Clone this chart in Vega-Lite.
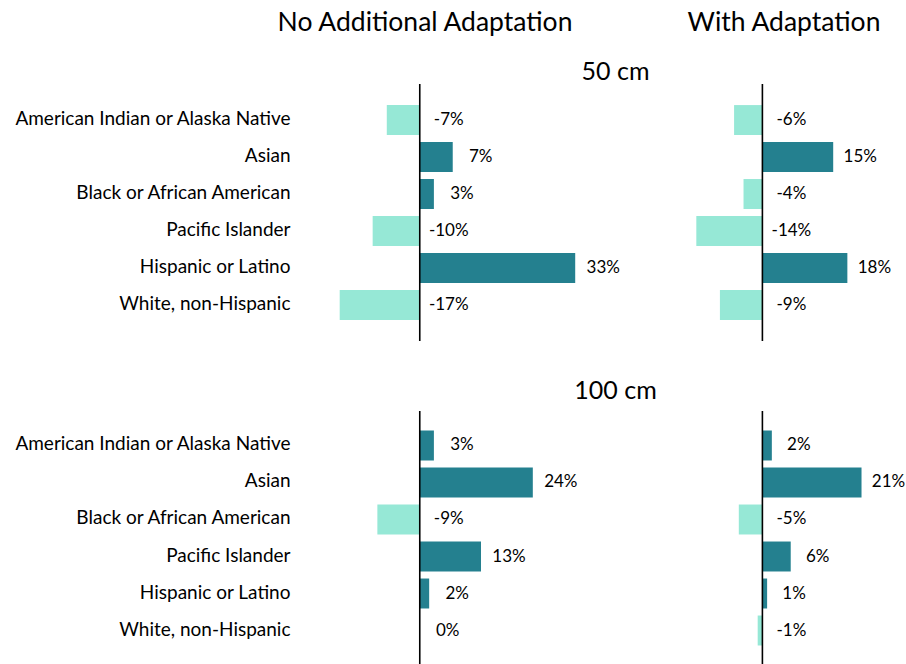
{
  "$schema": "https://vega.github.io/schema/vega-lite/v6.json",
  "padding": {"left": 12, "top": 9, "right": 0, "bottom": 0},
  "config": {
    "view": {"stroke": null},
    "font": "Lato",
    "locale": {"number": {"decimal": ".", "thousands": ",", "grouping": [3], "currency": ["$", ""], "minus": "-"}}
  },
  "datasets": {
    "d50no": [
      {"group": "American Indian or Alaska Native", "value": -0.07},
      {"group": "Asian", "value": 0.07},
      {"group": "Black or African American", "value": 0.03},
      {"group": "Pacific Islander", "value": -0.10},
      {"group": "Hispanic or Latino", "value": 0.33},
      {"group": "White, non-Hispanic", "value": -0.17}
    ],
    "d50with": [
      {"group": "American Indian or Alaska Native", "value": -0.06},
      {"group": "Asian", "value": 0.15},
      {"group": "Black or African American", "value": -0.04},
      {"group": "Pacific Islander", "value": -0.14},
      {"group": "Hispanic or Latino", "value": 0.18},
      {"group": "White, non-Hispanic", "value": -0.09}
    ],
    "d100no": [
      {"group": "American Indian or Alaska Native", "value": 0.03},
      {"group": "Asian", "value": 0.24},
      {"group": "Black or African American", "value": -0.09},
      {"group": "Pacific Islander", "value": 0.13},
      {"group": "Hispanic or Latino", "value": 0.02},
      {"group": "White, non-Hispanic", "value": 0.00}
    ],
    "d100with": [
      {"group": "American Indian or Alaska Native", "value": 0.02},
      {"group": "Asian", "value": 0.21},
      {"group": "Black or African American", "value": -0.05},
      {"group": "Pacific Islander", "value": 0.06},
      {"group": "Hispanic or Latino", "value": 0.01},
      {"group": "White, non-Hispanic", "value": -0.01}
    ]
  },
  "vconcat": [
    {
      "hconcat": [
        {
          "width": 358, "height": 257,
          "title": {"text": "No Additional Adaptation", "font": "Lato", "fontSize": 26.5, "fontWeight": "normal", "color": "#000000", "frame": "group", "anchor": "middle", "dx": -56, "baseline": "alphabetic", "offset": 2},
          "data": {"name": "d50no"},
          "layer": [
            {
              "mark": {"type": "bar"},
              "encoding": {
                "y": {"field": "group", "type": "nominal", "sort": ["American Indian or Alaska Native", "Asian", "Black or African American", "Pacific Islander", "Hispanic or Latino", "White, non-Hispanic"], "scale": {"paddingInner": 0.19, "paddingOuter": 0.57},
                  "axis": {"title": null, "ticks": false, "domain": false, "grid": false, "labelPadding": 12, "labelFont": "Lato", "labelFontSize": 19, "labelColor": "#000000", "labelLimit": 400, "minExtent": 290, "labelOffset": -1}},
                "x": {"field": "value", "type": "quantitative", "scale": {"domain": [-0.25, 0.51], "nice": false, "zero": false},
                  "axis": {"orient": "top", "labels": false, "ticks": false, "domain": false, "grid": false, "title": "50 cm", "titleFont": "Lato", "titleFontSize": 25, "titleFontWeight": "normal", "titleColor": "#000000", "titleX": 313, "titleY": -5, "titleBaseline": "alphabetic", "titleAlign": "center"}},
                "color": {"condition": {"test": "datum.value < 0", "value": "#96e8d6"}, "value": "#24808f"}
              }
            },
            {
              "data": {"values": [{}]},
              "mark": {"type": "rule", "color": "#000000", "strokeWidth": 1.6},
              "encoding": {"x": {"datum": 0, "type": "quantitative",
                  "axis": {"orient": "top", "labels": false, "ticks": false, "domain": false, "grid": false, "title": "50 cm", "titleFont": "Lato", "titleFontSize": 25, "titleFontWeight": "normal", "titleColor": "#000000", "titleX": 313, "titleY": -5, "titleBaseline": "alphabetic", "titleAlign": "center"}}}
            },
            {
              "transform": [{"filter": "datum.value >= 0"}],
              "mark": {"type": "text", "align": "center", "baseline": "middle", "dx": 28, "font": "Lato", "fontSize": 17, "color": "#000000"},
              "encoding": {
                "x": {"field": "value", "type": "quantitative",
                  "axis": {"orient": "top", "labels": false, "ticks": false, "domain": false, "grid": false, "title": "50 cm", "titleFont": "Lato", "titleFontSize": 25, "titleFontWeight": "normal", "titleColor": "#000000", "titleX": 313, "titleY": -5, "titleBaseline": "alphabetic", "titleAlign": "center"}},
                "y": {"field": "group", "type": "nominal", "sort": ["American Indian or Alaska Native", "Asian", "Black or African American", "Pacific Islander", "Hispanic or Latino", "White, non-Hispanic"],
                  "axis": {"title": null, "ticks": false, "domain": false, "grid": false, "labelPadding": 12, "labelFont": "Lato", "labelFontSize": 19, "labelColor": "#000000", "labelLimit": 400, "minExtent": 290, "labelOffset": -1}},
                "text": {"field": "value", "type": "quantitative", "format": ".0%"}
              }
            },
            {
              "transform": [{"filter": "datum.value < 0"}],
              "mark": {"type": "text", "align": "center", "baseline": "middle", "dx": 29, "font": "Lato", "fontSize": 17, "color": "#000000"},
              "encoding": {
                "x": {"datum": 0, "type": "quantitative",
                  "axis": {"orient": "top", "labels": false, "ticks": false, "domain": false, "grid": false, "title": "50 cm", "titleFont": "Lato", "titleFontSize": 25, "titleFontWeight": "normal", "titleColor": "#000000", "titleX": 313, "titleY": -5, "titleBaseline": "alphabetic", "titleAlign": "center"}},
                "y": {"field": "group", "type": "nominal", "sort": ["American Indian or Alaska Native", "Asian", "Black or African American", "Pacific Islander", "Hispanic or Latino", "White, non-Hispanic"],
                  "axis": {"title": null, "ticks": false, "domain": false, "grid": false, "labelPadding": 12, "labelFont": "Lato", "labelFontSize": 19, "labelColor": "#000000", "labelLimit": 400, "minExtent": 290, "labelOffset": -1}},
                "text": {"field": "value", "type": "quantitative", "format": ".0%"}
              }
            }
          ]
        },
        {
          "width": 236, "height": 257,
          "title": {"text": "With Adaptation", "font": "Lato", "fontSize": 26.5, "fontWeight": "normal", "color": "#000000", "frame": "group", "anchor": "middle", "dx": -2, "baseline": "alphabetic", "offset": 26},
          "data": {"name": "d50with"},
          "layer": [
            {
              "mark": {"type": "bar"},
              "encoding": {
                "y": {"field": "group", "type": "nominal", "sort": ["American Indian or Alaska Native", "Asian", "Black or African American", "Pacific Islander", "Hispanic or Latino", "White, non-Hispanic"], "scale": {"paddingInner": 0.19, "paddingOuter": 0.57}, "axis": null},
                "x": {"field": "value", "type": "quantitative", "scale": {"domain": [-0.20, 0.30], "nice": false, "zero": false}, "axis": null},
                "color": {"condition": {"test": "datum.value < 0", "value": "#96e8d6"}, "value": "#24808f"}
              }
            },
            {
              "data": {"values": [{}]},
              "mark": {"type": "rule", "color": "#000000", "strokeWidth": 1.6},
              "encoding": {"x": {"datum": 0, "type": "quantitative", "axis": null}}
            },
            {
              "transform": [{"filter": "datum.value >= 0"}],
              "mark": {"type": "text", "align": "center", "baseline": "middle", "dx": 27, "font": "Lato", "fontSize": 17, "color": "#000000"},
              "encoding": {
                "x": {"field": "value", "type": "quantitative", "axis": null},
                "y": {"field": "group", "type": "nominal", "sort": ["American Indian or Alaska Native", "Asian", "Black or African American", "Pacific Islander", "Hispanic or Latino", "White, non-Hispanic"], "axis": null},
                "text": {"field": "value", "type": "quantitative", "format": ".0%"}
              }
            },
            {
              "transform": [{"filter": "datum.value < 0"}],
              "mark": {"type": "text", "align": "center", "baseline": "middle", "dx": 29, "font": "Lato", "fontSize": 17, "color": "#000000"},
              "encoding": {
                "x": {"datum": 0, "type": "quantitative", "axis": null},
                "y": {"field": "group", "type": "nominal", "sort": ["American Indian or Alaska Native", "Asian", "Black or African American", "Pacific Islander", "Hispanic or Latino", "White, non-Hispanic"], "axis": null},
                "text": {"field": "value", "type": "quantitative", "format": ".0%"}
              }
            }
          ]
        }
      ],
      "spacing": 8,
      "resolve": {"scale": {"x": "independent", "y": "independent"}}
    },
    {
      "hconcat": [
        {
          "width": 358, "height": 254,
          "data": {"name": "d100no"},
          "layer": [
            {
              "mark": {"type": "bar"},
              "encoding": {
                "y": {"field": "group", "type": "nominal", "sort": ["American Indian or Alaska Native", "Asian", "Black or African American", "Pacific Islander", "Hispanic or Latino", "White, non-Hispanic"], "scale": {"paddingInner": 0.19, "paddingOuter": 0.527},
                  "axis": {"title": null, "ticks": false, "domain": false, "grid": false, "labelPadding": 12, "labelFont": "Lato", "labelFontSize": 19, "labelColor": "#000000", "labelLimit": 400, "minExtent": 290, "labelOffset": -1}},
                "x": {"field": "value", "type": "quantitative", "scale": {"domain": [-0.25, 0.51], "nice": false, "zero": false},
                  "axis": {"orient": "top", "labels": false, "ticks": false, "domain": false, "grid": false, "title": "100 cm", "titleFont": "Lato", "titleFontSize": 25, "titleFontWeight": "normal", "titleColor": "#000000", "titleX": 313, "titleY": -13, "titleBaseline": "alphabetic", "titleAlign": "center"}},
                "color": {"condition": {"test": "datum.value < 0", "value": "#96e8d6"}, "value": "#24808f"}
              }
            },
            {
              "data": {"values": [{}]},
              "mark": {"type": "rule", "color": "#000000", "strokeWidth": 1.6},
              "encoding": {"x": {"datum": 0, "type": "quantitative",
                  "axis": {"orient": "top", "labels": false, "ticks": false, "domain": false, "grid": false, "title": "100 cm", "titleFont": "Lato", "titleFontSize": 25, "titleFontWeight": "normal", "titleColor": "#000000", "titleX": 313, "titleY": -13, "titleBaseline": "alphabetic", "titleAlign": "center"}}}
            },
            {
              "transform": [{"filter": "datum.value >= 0"}],
              "mark": {"type": "text", "align": "center", "baseline": "middle", "dx": 28, "font": "Lato", "fontSize": 17, "color": "#000000"},
              "encoding": {
                "x": {"field": "value", "type": "quantitative",
                  "axis": {"orient": "top", "labels": false, "ticks": false, "domain": false, "grid": false, "title": "100 cm", "titleFont": "Lato", "titleFontSize": 25, "titleFontWeight": "normal", "titleColor": "#000000", "titleX": 313, "titleY": -13, "titleBaseline": "alphabetic", "titleAlign": "center"}},
                "y": {"field": "group", "type": "nominal", "sort": ["American Indian or Alaska Native", "Asian", "Black or African American", "Pacific Islander", "Hispanic or Latino", "White, non-Hispanic"],
                  "axis": {"title": null, "ticks": false, "domain": false, "grid": false, "labelPadding": 12, "labelFont": "Lato", "labelFontSize": 19, "labelColor": "#000000", "labelLimit": 400, "minExtent": 290, "labelOffset": -1}},
                "text": {"field": "value", "type": "quantitative", "format": ".0%"}
              }
            },
            {
              "transform": [{"filter": "datum.value < 0"}],
              "mark": {"type": "text", "align": "center", "baseline": "middle", "dx": 29, "font": "Lato", "fontSize": 17, "color": "#000000"},
              "encoding": {
                "x": {"datum": 0, "type": "quantitative",
                  "axis": {"orient": "top", "labels": false, "ticks": false, "domain": false, "grid": false, "title": "100 cm", "titleFont": "Lato", "titleFontSize": 25, "titleFontWeight": "normal", "titleColor": "#000000", "titleX": 313, "titleY": -13, "titleBaseline": "alphabetic", "titleAlign": "center"}},
                "y": {"field": "group", "type": "nominal", "sort": ["American Indian or Alaska Native", "Asian", "Black or African American", "Pacific Islander", "Hispanic or Latino", "White, non-Hispanic"],
                  "axis": {"title": null, "ticks": false, "domain": false, "grid": false, "labelPadding": 12, "labelFont": "Lato", "labelFontSize": 19, "labelColor": "#000000", "labelLimit": 400, "minExtent": 290, "labelOffset": -1}},
                "text": {"field": "value", "type": "quantitative", "format": ".0%"}
              }
            }
          ]
        },
        {
          "width": 236, "height": 254,
          "data": {"name": "d100with"},
          "layer": [
            {
              "mark": {"type": "bar"},
              "encoding": {
                "y": {"field": "group", "type": "nominal", "sort": ["American Indian or Alaska Native", "Asian", "Black or African American", "Pacific Islander", "Hispanic or Latino", "White, non-Hispanic"], "scale": {"paddingInner": 0.19, "paddingOuter": 0.527}, "axis": null},
                "x": {"field": "value", "type": "quantitative", "scale": {"domain": [-0.20, 0.30], "nice": false, "zero": false}, "axis": null},
                "color": {"condition": {"test": "datum.value < 0", "value": "#96e8d6"}, "value": "#24808f"}
              }
            },
            {
              "data": {"values": [{}]},
              "mark": {"type": "rule", "color": "#000000", "strokeWidth": 1.6},
              "encoding": {"x": {"datum": 0, "type": "quantitative", "axis": null}}
            },
            {
              "transform": [{"filter": "datum.value >= 0"}],
              "mark": {"type": "text", "align": "center", "baseline": "middle", "dx": 27, "font": "Lato", "fontSize": 17, "color": "#000000"},
              "encoding": {
                "x": {"field": "value", "type": "quantitative", "axis": null},
                "y": {"field": "group", "type": "nominal", "sort": ["American Indian or Alaska Native", "Asian", "Black or African American", "Pacific Islander", "Hispanic or Latino", "White, non-Hispanic"], "axis": null},
                "text": {"field": "value", "type": "quantitative", "format": ".0%"}
              }
            },
            {
              "transform": [{"filter": "datum.value < 0"}],
              "mark": {"type": "text", "align": "center", "baseline": "middle", "dx": 29, "font": "Lato", "fontSize": 17, "color": "#000000"},
              "encoding": {
                "x": {"datum": 0, "type": "quantitative", "axis": null},
                "y": {"field": "group", "type": "nominal", "sort": ["American Indian or Alaska Native", "Asian", "Black or African American", "Pacific Islander", "Hispanic or Latino", "White, non-Hispanic"], "axis": null},
                "text": {"field": "value", "type": "quantitative", "format": ".0%"}
              }
            }
          ]
        }
      ],
      "spacing": 8,
      "resolve": {"scale": {"x": "independent", "y": "independent"}}
    }
  ],
  "spacing": 36,
  "resolve": {"scale": {"x": "independent", "y": "independent"}}
}
